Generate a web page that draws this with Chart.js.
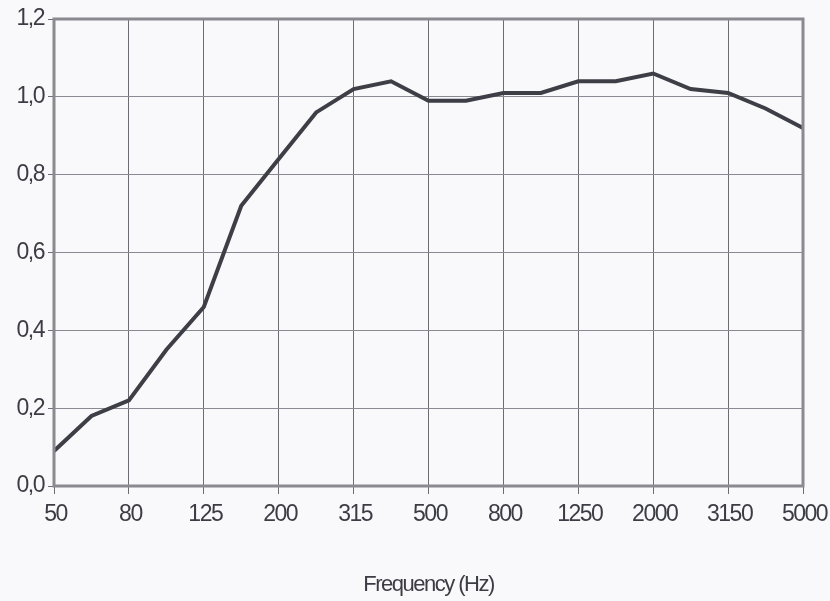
<!DOCTYPE html>
<html>
<head>
<meta charset="utf-8">
<script src="https://cdn.jsdelivr.net/npm/chart.js@4/dist/chart.umd.min.js"></script>
<style>
    html, body { margin: 0; padding: 0; background: #f9f9fb; }
    #wrap { width: 830px; height: 601px; }
</style>
</head>
<body>
<div id="wrap"><canvas id="absorptionChart"></canvas></div>
<script>
// Frequency bands (Hz), one third octave
const frequencies = ['50', '63', '80', '100', '125', '160', '200', '250', '315', '400', '500',
    '630', '800', '1000', '1250', '1600', '2000', '2500', '3150', '4000', '5000'];

// Sound absorption coefficient
const absorption = [0.09, 0.18, 0.22, 0.35, 0.46, 0.72, 0.84, 0.96, 1.02, 1.04, 0.99,
    0.99, 1.01, 1.01, 1.04, 1.04, 1.06, 1.02, 1.01, 0.97, 0.92];

const yTicks = [0, 0.2, 0.4, 0.6, 0.8, 1.0, 1.2];

const textColor = '#3c3c44';
const fontFamily = '"Liberation Sans", Arial, Helvetica, sans-serif';

// The labels in the picture are set tight, so squeeze the letters a bit
const tightText = {
    id: 'tightText',
    beforeLayout(chart) { chart.ctx.letterSpacing = '-1.5px'; },
    beforeDraw(chart) { chart.ctx.letterSpacing = '-1.5px'; }
};

// Frame round the plot area (top and right edges included)
const framePlugin = {
    id: 'frame',
    afterDraw(chart) {
        const a = chart.chartArea;
        const ctx = chart.ctx;
        ctx.save();
        ctx.strokeStyle = '#8a8a90';
        ctx.lineWidth = 3;
        ctx.strokeRect(a.left, a.top, a.right - a.left, a.bottom - a.top);
        ctx.restore();
    }
};

const ctx = document.getElementById('absorptionChart').getContext('2d');
new Chart(ctx, {
    type: 'line',
    data: {
        labels: frequencies,
        datasets: [{
            data: absorption,
            borderColor: '#3e3e46',
            borderWidth: 4,
            pointRadius: 0,
            tension: 0,
            fill: false
        }]
    },
    options: {
        responsive: true,
        maintainAspectRatio: false,
        animation: false,
        layout: { padding: { left: 0, right: 27, top: 19, bottom: 0 } },
        plugins: {
            legend: { display: false },
            tooltip: { enabled: false }
        },
        scales: {
            x: {
                offset: false,
                afterFit(scale) {
                    scale.height = 115;
                    // the last label may hang over the edge, keep the plot width
                    scale.paddingLeft = 0;
                    scale.paddingRight = 0;
                },
                grid: {
                    color: '#6c6c72',
                    lineWidth: 1,
                    tickLength: 8,
                    tickColor: '#6c6c72'
                },
                border: { display: false },
                ticks: {
                    autoSkip: false,
                    maxRotation: 0,
                    color: textColor,
                    font: { family: fontFamily, size: 23 },
                    padding: 7,
                    labelOffset: 1.5,
                    callback: function (value, index) {
                        return index % 2 === 0 ? frequencies[index] : null;
                    }
                },
                title: {
                    display: true,
                    text: 'Frequency (Hz)',
                    color: textColor,
                    font: { family: fontFamily, size: 22 },
                    padding: { top: 0, bottom: 3 }
                }
            },
            y: {
                min: 0,
                max: 1.2,
                afterFit(scale) { scale.width = 54; },
                afterBuildTicks(scale) {
                    scale.ticks = yTicks.map(v => ({ value: v }));
                },
                grid: {
                    color: '#8a8a92',
                    lineWidth: 1,
                    tickLength: 6,
                    tickColor: '#6c6c72'
                },
                border: { display: false },
                ticks: {
                    color: textColor,
                    font: { family: fontFamily, size: 23 },
                    padding: 4,
                    callback: function (value) {
                        return value.toFixed(1).replace('.', ',');
                    }
                }
            }
        }
    },
    plugins: [tightText, framePlugin]
});
</script>
</body>
</html>
